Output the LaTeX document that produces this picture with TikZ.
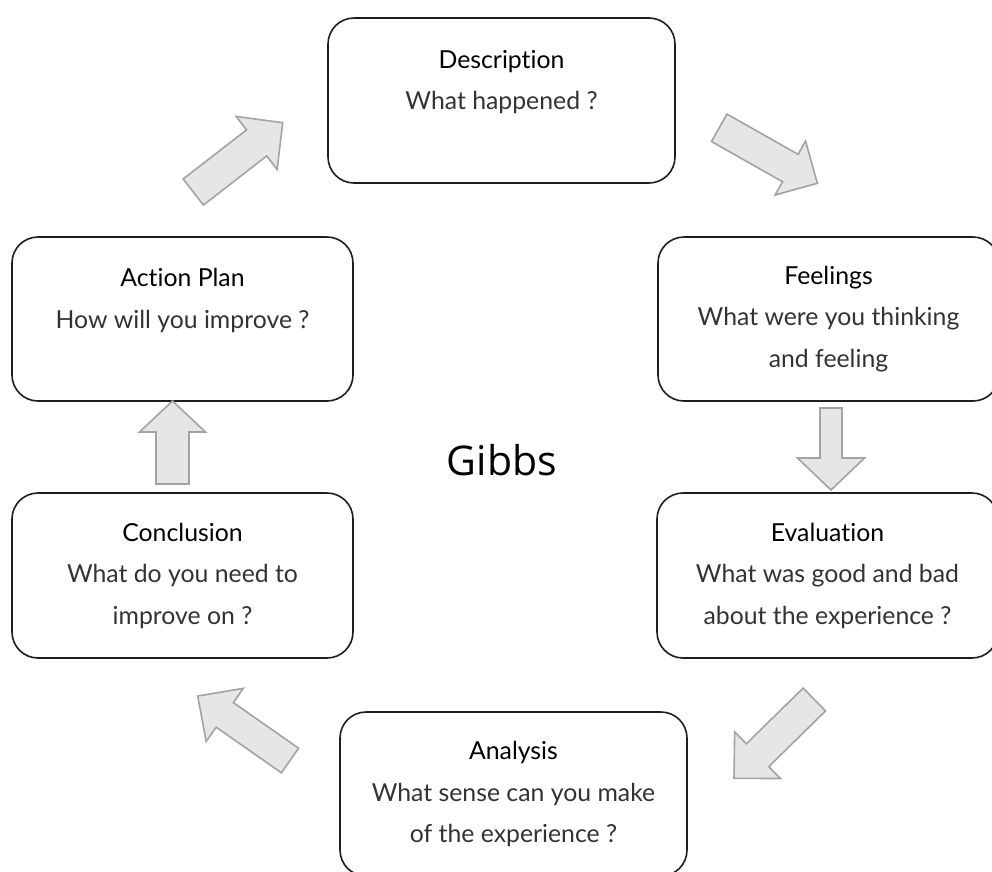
\documentclass[tikz,border=0pt]{standalone}
\usepackage{fontspec}
\setmainfont[Ligatures={NoCommon}]{Lato}
\newfontfamily\gibbsfont{Open Sans}
\usetikzlibrary{calc}
\definecolor{arrowfill}{HTML}{E6E6E6}
\definecolor{arrowline}{HTML}{A3A3A3}
\definecolor{boxline}{HTML}{1E1E1E}
\definecolor{subtext}{HTML}{333333}
\newcommand\subline[1]{\textcolor{subtext}{#1}}
\tikzset{
  stagebox/.style={draw=boxline, line width=1.6pt, rounded corners=26pt, fill=white,
    align=center, inner sep=0pt, font=\fontsize{24.8}{41.5}\selectfont, text=black},
  blockarrow/.style={draw=arrowline, fill=arrowfill, line width=1.6pt, line join=miter},
}
% #1 tail, #2 tip, #3 half shaft width, #4 half head width, #5 head length
\newcommand\blockarrowdraw[5]{%
  \coordinate (bh) at ($(#2)!#5pt!(#1)$);
  \draw[blockarrow]
    ($(#1)!#3pt!90:(#2)$) -- ($(bh)!#3pt!-90:(#1)$) -- ($(bh)!#4pt!-90:(#1)$)
    -- (#2) -- ($(bh)!#4pt!90:(#1)$) -- ($(bh)!#3pt!90:(#1)$)
    -- ($(#1)!#3pt!-90:(#2)$) -- cycle;
}
\begin{document}
\begin{tikzpicture}[x=1pt, y=-1pt]
  \useasboundingbox (0,0) rectangle (992,871);
  \fill[white] (0,0) rectangle (992,871);
  \clip (0,0) rectangle (992,871);

  % stage boxes
  \node[stagebox, minimum width=347pt, minimum height=165pt] (desc) at (501.5,100.5)
    {Description\\\subline{What happened ?}\\\mbox{}};
  \node[stagebox, minimum width=341pt, minimum height=164pt] (feel) at (828.5,319)
    {Feelings\\\subline{What were you thinking}\\\subline{and feeling}};
  \node[stagebox, minimum width=341pt, minimum height=165pt] (eval) at (827.5,575.5)
    {Evaluation\\\subline{What was good and bad}\\\subline{about the experience ?}};
  \node[stagebox, minimum width=347pt, minimum height=164pt] (anal) at (513.5,794)
    {Analysis\\\subline{What sense can you make}\\\subline{of the experience ?}};
  \node[stagebox, minimum width=341pt, minimum height=165pt] (conc) at (182.5,575.5)
    {Conclusion\\\subline{What do you need to}\\\subline{improve on ?}};
  \node[stagebox, minimum width=341pt, minimum height=164pt] (act) at (182.5,319)
    {Action Plan\\\subline{How will you improve ?}\\\mbox{}};

  % centre title
  \node[font=\gibbsfont\fontsize{41}{41}\selectfont, anchor=base, inner sep=0pt] (gibbs) at (502,475) {Gibbs};

  % arrow end points
  \coordinate (a1t) at (193.3,192);   \coordinate (a1h) at (282.7,122.7);
  \coordinate (a2t) at (719.2,127.8); \coordinate (a2h) at (817.3,183.3);
  \coordinate (a3t) at (831,408);     \coordinate (a3h) at (831,490);
  \coordinate (a4t) at (814.3,699.5); \coordinate (a4h) at (734,778.3);
  \coordinate (a5t) at (290,760.5);   \coordinate (a5h) at (197.7,696);
  \coordinate (a6t) at (172.5,484);   \coordinate (a6h) at (172.5,401);

  % block arrows
  \blockarrowdraw{a1t}{a1h}{16.5}{33.5}{33}
  \blockarrowdraw{a2t}{a2h}{15.75}{31}{31}
  \blockarrowdraw{a3t}{a3h}{11}{33.5}{32}
  \blockarrowdraw{a4t}{a4h}{16}{32.7}{33}
  \blockarrowdraw{a5t}{a5h}{15}{32.4}{33}
  \blockarrowdraw{a6t}{a6h}{16.5}{33}{31}
\end{tikzpicture}
\end{document}
